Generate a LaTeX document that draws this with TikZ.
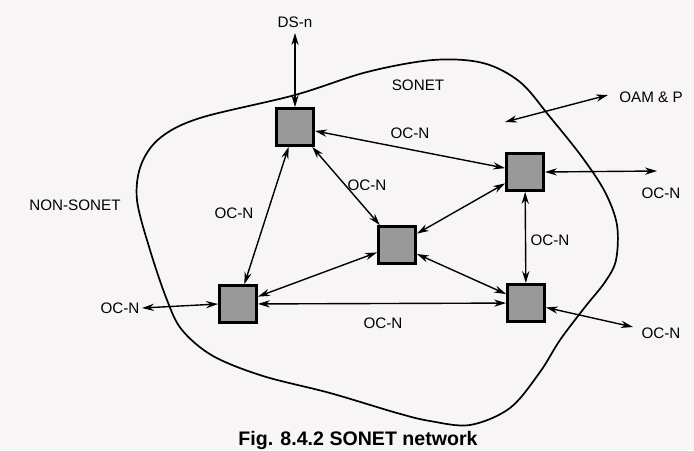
\documentclass[tikz,border=0pt]{standalone}
\usepackage{fontspec}
\setmainfont{Liberation Sans}
\usetikzlibrary{arrows.meta}
\definecolor{paper}{RGB}{248,245,247}
\begin{document}
\begin{tikzpicture}[>={Stealth[length=6pt,width=3.6pt]}, x=0.5pt, y=-0.5pt,
  ne/.style={draw, line width=1.4pt, fill=black!40, minimum size=18.5pt, inner sep=0pt},
  lbl/.style={font=\fontsize{7.6}{9}\selectfont},
  link/.style={<->, line width=0.7pt}]
\fill[paper] (0,0) rectangle (694,450);
\useasboundingbox (0,0) rectangle (694,450);

% SONET boundary
\draw[line width=0.85pt] plot[smooth cycle, tension=0.55] coordinates {
  (433,60) (483,63) (520,82) (550,117) (582,157) (605,192) (617,225) (616,260)
  (605,282) (585,307) (560,340) (540,372) (510,408) (470,425) (430,421) (397,413)
  (330,393) (263,376) (213,356) (182,330) (167,300) (150,250) (137,200) (141,165)
  (160,138) (200,118) (295,95) (367,72)};

% network elements
\node[ne] (a) at (295,127) {};
\node[ne] (b) at (525,172) {};
\node[ne] (c) at (397,245) {};
\node[ne] (d) at (238,304) {};
\node[ne] (e) at (526,303) {};

% labels
\node[lbl] (dsn) at (295,22) {DS-n};
\node[lbl] (sonet) at (418,85) {SONET};
\node[lbl] (oam) at (651,97) {OAM \& P};
\node[lbl] (nonsonet) at (75,205) {NON-SONET};
\node[lbl] (lab) at (410,133) {OC-N};
\node[lbl] (lac) at (367,185) {OC-N};
\node[lbl] (lad) at (234,213) {OC-N};
\node[lbl] (lbe) at (550,240) {OC-N};
\node[lbl] (lde) at (383,323) {OC-N};
\node[lbl] (lbr) at (661,193) {OC-N};
\node[lbl] (ler) at (661,333) {OC-N};
\node[lbl] (ldl) at (120,308) {OC-N};

% free ends
\coordinate (dstop) at (295,33);
\coordinate (oamout) at (608,95);
\coordinate (oamin) at (505,122);
\coordinate (bout) at (657,171);
\coordinate (eout) at (633,327);
\coordinate (dout) at (142,308);

\draw[link] (dstop) -- (a);
\draw[link] (oamout) -- (oamin);
\draw[link] (a) -- (b);
\draw[link] (a) -- (c);
\draw[link] (a) -- (d);
\draw[link] (c) -- (b);
\draw[link] (c) -- (d);
\draw[link] (c) -- (e);
\draw[link] (b) -- (e);
\draw[link] (d) -- (e);
\draw[link] (b.east) -- (bout);
\draw[link] (e) -- (eout);
\draw[link] (dout) -- (d.west);

\node[font=\fontsize{9.8}{11}\selectfont\bfseries] (cap) at (358,440) {Fig. 8.4.2 SONET network};
\end{tikzpicture}
\end{document}
